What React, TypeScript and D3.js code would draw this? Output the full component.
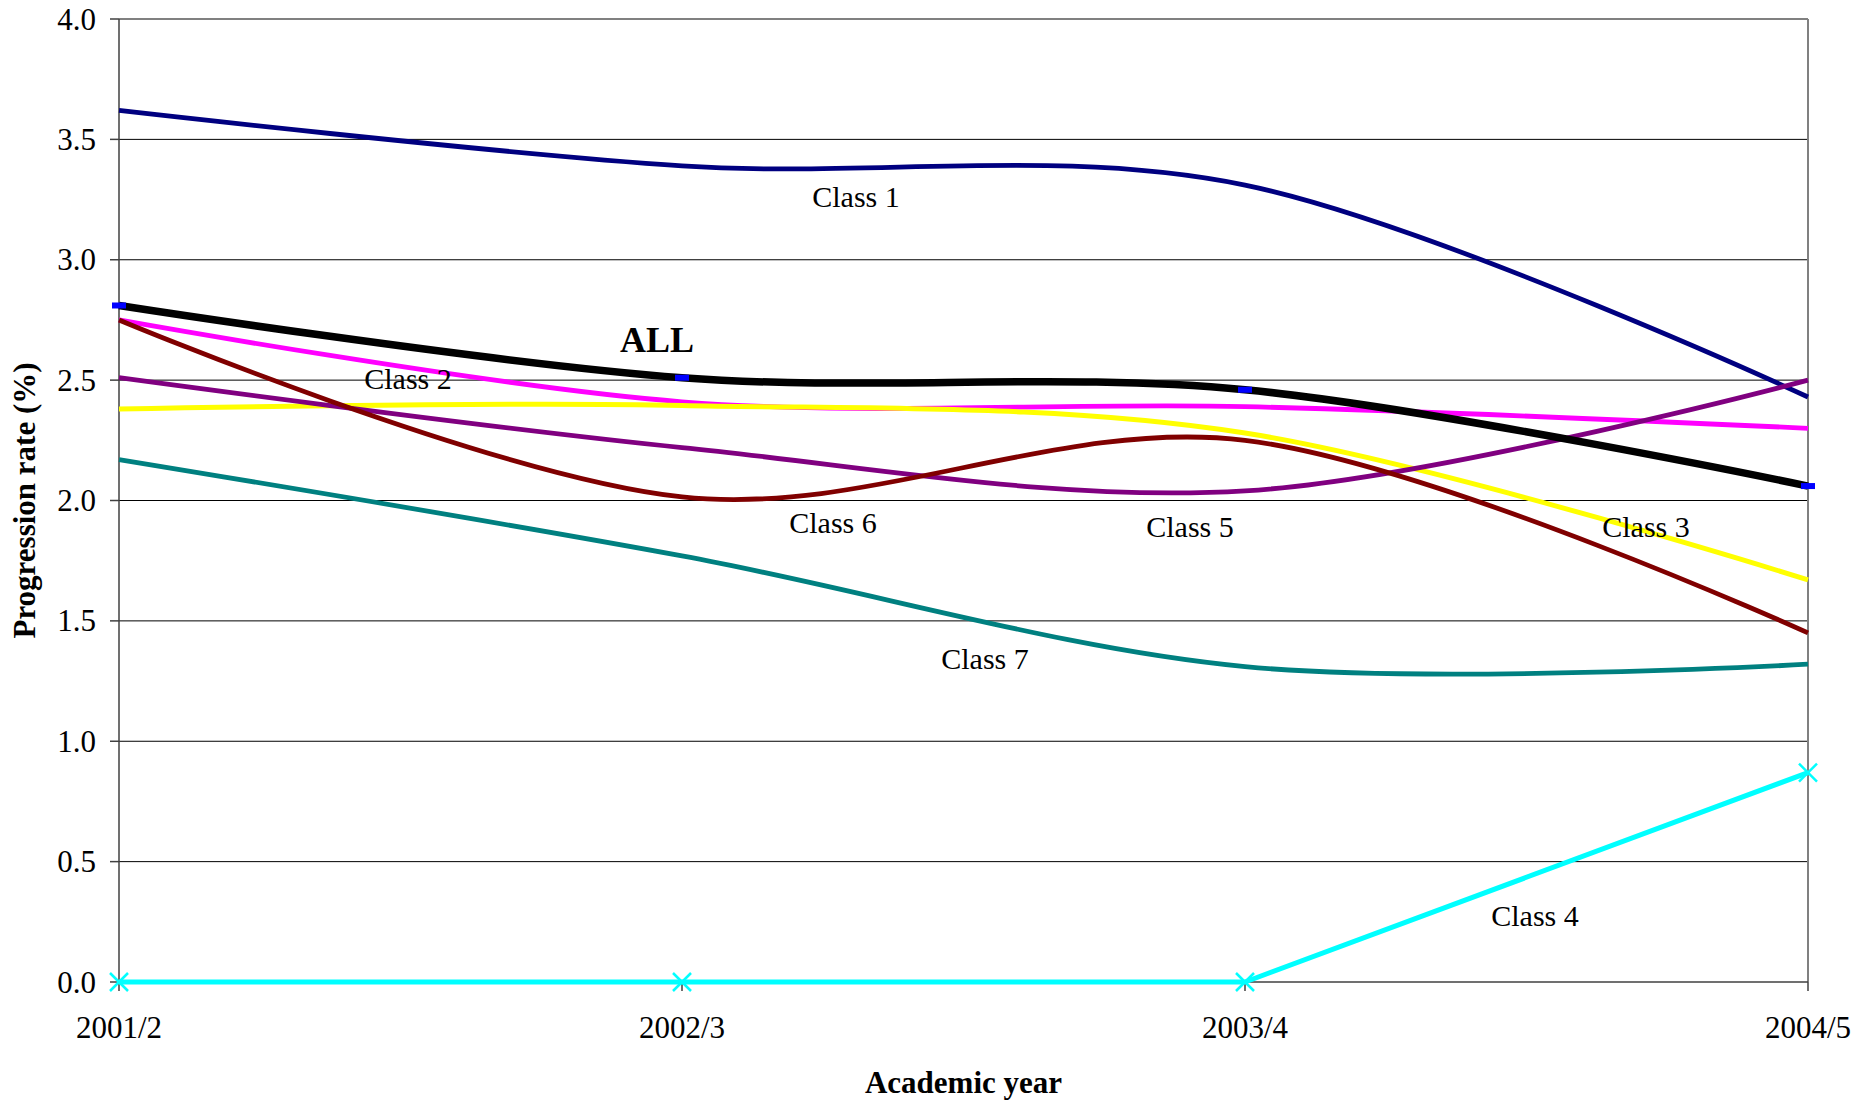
import React from "react";
import * as d3 from "d3";

const years = ["2001/2", "2002/3", "2003/4", "2004/5"];
const yTicks = [0, 0.5, 1, 1.5, 2, 2.5, 3, 3.5, 4];

const class1 = [3.62, 3.39, 3.31, 2.43];
const class2 = [2.75, 2.41, 2.39, 2.3];
const class3 = [2.38, 2.395, 2.28, 1.67];
const class4 = [0, 0, 0, 0.87];
const class5 = [2.51, 2.22, 2.04, 2.5];
const class6 = [2.75, 2.015, 2.25, 1.45];
const class7 = [2.17, 1.77, 1.31, 1.32];
const allClasses = [2.81, 2.51, 2.46, 2.06];

const seriesList = [
  { name: "Class 1", values: class1, color: "#000080", width: 4.8, smooth: true },
  { name: "Class 2", values: class2, color: "#FF00FF", width: 4.8, smooth: true },
  { name: "Class 3", values: class3, color: "#FFFF00", width: 5, smooth: true },
  { name: "Class 4", values: class4, color: "#00FFFF", width: 5, smooth: false },
  { name: "Class 5", values: class5, color: "#800080", width: 4.8, smooth: true },
  { name: "Class 6", values: class6, color: "#800000", width: 4.8, smooth: true },
  { name: "Class 7", values: class7, color: "#008080", width: 4.8, smooth: true },
  { name: "ALL", values: allClasses, color: "#000000", width: 7.5, smooth: true },
];

const labels = [
  { text: "Class 1", x: 856, y: 207, bold: false },
  { text: "ALL", x: 657, y: 352, bold: true },
  { text: "Class 2", x: 408, y: 389, bold: false },
  { text: "Class 6", x: 833, y: 533, bold: false },
  { text: "Class 5", x: 1190, y: 537, bold: false },
  { text: "Class 3", x: 1646, y: 537, bold: false },
  { text: "Class 7", x: 985, y: 669, bold: false },
  { text: "Class 4", x: 1535, y: 926, bold: false },
];

const W = 1864;
const H = 1102;
const L = 119, R = 1808, T = 19, B = 982;
const FONT = "'Liberation Serif', 'Times New Roman', serif";

export default function App() {
  const x = d3.scalePoint<string>().domain(years).range([L, R]);
  const y = d3.scaleLinear().domain([0, 4]).range([B, T]);

  const smoothLine = d3
    .line<number>()
    .x((_, i) => x(years[i]) as number)
    .y((d) => y(d))
    .curve(d3.curveCatmullRom.alpha(0));
  const straightLine = d3
    .line<number>()
    .x((_, i) => x(years[i]) as number)
    .y((d) => y(d));

  return (
    <svg
      width={W}
      height={H}
      style={{ position: "absolute", left: 0, top: 0, background: "#fff" }}
      fontFamily={FONT}
    >
      <rect x={0} y={0} width={W} height={H} fill="#fff" />
      {yTicks.map((t) =>
        t === 0 || t === 4 ? null : (
          <line key={"g" + t} x1={L} x2={R} y1={y(t)} y2={y(t)} stroke="#000" strokeWidth={1} />
        )
      )}
      <line x1={L} x2={R} y1={T} y2={T} stroke="#808080" strokeWidth={2} />
      <line x1={R} x2={R} y1={T} y2={B} stroke="#808080" strokeWidth={2} />
      <line x1={L} x2={L} y1={T} y2={B} stroke="#404040" strokeWidth={1.5} />
      <line x1={L} x2={R} y1={B} y2={B} stroke="#404040" strokeWidth={1.5} />
      {yTicks.map((t) => (
        <g key={"yt" + t}>
          <line x1={L - 9} x2={L} y1={y(t)} y2={y(t)} stroke="#404040" strokeWidth={1.5} />
          <text
            x={96}
            y={y(t)}
            textAnchor="end"
            dominantBaseline="central"
            fontSize={31}
            fill="#000"
          >
            {t.toFixed(1)}
          </text>
        </g>
      ))}
      {years.map((yr) => (
        <g key={"xt" + yr}>
          <line x1={x(yr)} x2={x(yr)} y1={B} y2={B + 9} stroke="#404040" strokeWidth={1.5} />
          <text x={x(yr)} y={1038} textAnchor="middle" fontSize={31} fill="#000">
            {yr}
          </text>
        </g>
      ))}
      {seriesList.map((s) => (
        <path
          key={s.name}
          d={(s.smooth ? smoothLine : straightLine)(s.values) || ""}
          fill="none"
          stroke={s.color}
          strokeWidth={s.width}
          strokeLinejoin="round"
        />
      ))}
      {class4.map((v, i) => {
        const cx = x(years[i]) as number;
        const cy = y(v);
        return (
          <g key={"m4" + i} stroke="#00FFFF" strokeWidth={2.5}>
            <line x1={cx - 9} y1={cy - 9} x2={cx + 9} y2={cy + 9} />
            <line x1={cx - 9} y1={cy + 9} x2={cx + 9} y2={cy - 9} />
          </g>
        );
      })}
      {allClasses.map((v, i) => {
        const cx = x(years[i]) as number;
        const cy = y(v);
        return <rect key={"ma" + i} x={cx - 7} y={cy - 3} width={14} height={6} fill="#0000FF" />;
      })}
      {labels.map((l) => (
        <text
          key={l.text}
          x={l.x}
          y={l.y}
          textAnchor="middle"
          fontSize={l.bold ? 36 : 30}
          fontWeight={l.bold ? "bold" : "normal"}
          fill="#000"
        >
          {l.text}
        </text>
      ))}
      <text x={(L + R) / 2} y={1093} textAnchor="middle" fontSize={31} fontWeight="bold" fill="#000">
        Academic year
      </text>
      <text
        transform={`translate(35, ${(T + B) / 2}) rotate(-90)`}
        textAnchor="middle"
        fontSize={31}
        fontWeight="bold"
        fill="#000"
      >
        Progression rate (%)
      </text>
    </svg>
  );
}
